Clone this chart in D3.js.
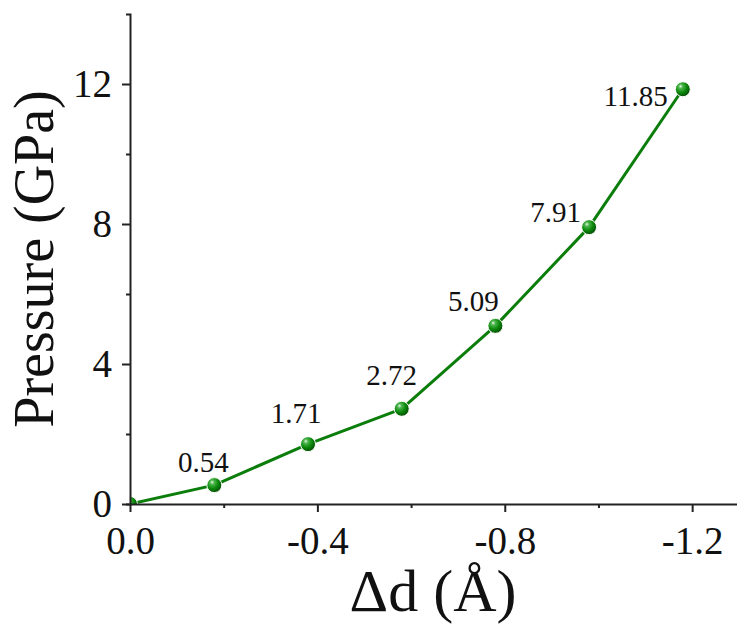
<!DOCTYPE html>
<html>
<head>
<meta charset="utf-8">
<script src="https://cdn.jsdelivr.net/npm/d3@7"></script>
<style>
  html, body { margin: 0; padding: 0; background: #fff; }
  svg { display: block; }
  text { font-family: "Liberation Serif", "Times New Roman", serif; fill: #111; }
</style>
</head>
<body>
<svg id="chart" width="737" height="626"></svg>
<script>
// Interlayer distance change (Å) and the pressure needed to reach it (GPa)
const deltaD   = [0, -0.18, -0.38, -0.58, -0.78, -0.98, -1.18];
const pressure = [0, 0.54, 1.71, 2.72, 5.09, 7.91, 11.85];
const pointLabels = ["", "0.54", "1.71", "2.72", "5.09", "7.91", "11.85"];

const xTicks = [0, -0.4, -0.8, -1.2];
const xTickLabels = ["0.0", "-0.4", "-0.8", "-1.2"];
const xMinorTicks = [-0.2, -0.6, -1.0];
const yTicks = [0, 4, 8, 12];
const yTickLabels = ["0", "4", "8", "12"];
const yMinorTicks = [2, 6, 10];

// Label placement beside each marker: [dx, dy, anchor]
const labelPlacement = [
  [0, 0, "middle"],
  [-11, -13, "middle"],
  [-12, -21, "middle"],
  [-10, -24, "middle"],
  [-22, -15, "middle"],
  [-8, -5, "end"],
  [-15, 17, "end"]
];

const svg = d3.select("#chart");
const plot = { left: 130, right: 739, top: 14, bottom: 504 };

const x = d3.scaleLinear().domain([0, -1.3]).range([plot.left, plot.right]);
const y = d3.scaleLinear().domain([0, 14]).range([plot.bottom, plot.top]);

const green = "#0a7d0a";

// Sphere-like marker shading
const defs = svg.append("defs");
const grad = defs.append("radialGradient")
  .attr("id", "ball").attr("cx", "38%").attr("cy", "35%").attr("r", "65%")
  .attr("fx", "35%").attr("fy", "30%");
grad.append("stop").attr("offset", "0%").attr("stop-color", "#e8f8e8");
grad.append("stop").attr("offset", "22%").attr("stop-color", "#4cb54c");
grad.append("stop").attr("offset", "60%").attr("stop-color", "#0c8a0c");
grad.append("stop").attr("offset", "100%").attr("stop-color", "#045004");

defs.append("clipPath").attr("id", "plotClip")
  .append("rect")
  .attr("x", plot.left).attr("y", plot.top)
  .attr("width", plot.right - plot.left).attr("height", plot.bottom - plot.top);

const data = deltaD.map((d, i) => ({ x: d, y: pressure[i], label: pointLabels[i], place: labelPlacement[i] }));

const g = svg.append("g").attr("clip-path", "url(#plotClip)");

g.append("path")
  .datum(data)
  .attr("fill", "none")
  .attr("stroke", green)
  .attr("stroke-width", 3)
  .attr("stroke-linejoin", "round")
  .attr("d", d3.line().x(d => x(d.x)).y(d => y(d.y)));

g.selectAll("circle.pt")
  .data(data)
  .join("circle")
  .attr("class", "pt")
  .attr("cx", d => x(d.x))
  .attr("cy", d => y(d.y))
  .attr("r", 7.5)
  .attr("fill", "url(#ball)")
  .attr("stroke", "#ffffff")
  .attr("stroke-width", 1);

// Value labels
svg.selectAll("text.val")
  .data(data.filter(d => d.label))
  .join("text")
  .attr("class", "val")
  .attr("x", d => x(d.x) + d.place[0])
  .attr("y", d => y(d.y) + d.place[1])
  .attr("text-anchor", d => d.place[2])
  .attr("font-size", 29)
  .text(d => d.label);

// Axes
const axisColor = "#222";
const xAxis = d3.axisBottom(x)
  .tickValues(xTicks)
  .tickFormat((d, i) => xTickLabels[i])
  .tickSize(8).tickSizeOuter(0).tickPadding(14);
const gx = svg.append("g").attr("transform", `translate(0,${plot.bottom})`).call(xAxis);
gx.selectAll("text").attr("font-size", 39);

svg.append("g").attr("transform", `translate(0,${plot.bottom})`)
  .call(d3.axisBottom(x).tickValues(xMinorTicks).tickFormat("").tickSize(4).tickSizeOuter(0))
  .select(".domain").remove();

const yAxis = d3.axisLeft(y)
  .tickValues(yTicks)
  .tickFormat((d, i) => yTickLabels[i])
  .tickSize(8).tickSizeOuter(4).tickPadding(10);
const gy = svg.append("g").attr("transform", `translate(${plot.left},0)`).call(yAxis);
gy.selectAll("text").attr("font-size", 39);

svg.append("g").attr("transform", `translate(${plot.left},0)`)
  .call(d3.axisLeft(y).tickValues(yMinorTicks).tickFormat("").tickSize(4).tickSizeOuter(0))
  .select(".domain").remove();

svg.selectAll(".domain").attr("stroke", axisColor).attr("stroke-width", 2);
svg.selectAll(".tick line").attr("stroke", axisColor).attr("stroke-width", 2);
svg.selectAll(".tick text").attr("fill", "#111");

// Axis titles
svg.append("text")
  .attr("x", 433).attr("y", 611)
  .attr("text-anchor", "middle")
  .attr("font-size", 60)
  .text("Δd (Å)");

svg.append("text")
  .attr("transform", "translate(53,259) rotate(-90)")
  .attr("text-anchor", "middle")
  .attr("font-size", 56)
  .text("Pressure (GPa)");
</script>
</body>
</html>
